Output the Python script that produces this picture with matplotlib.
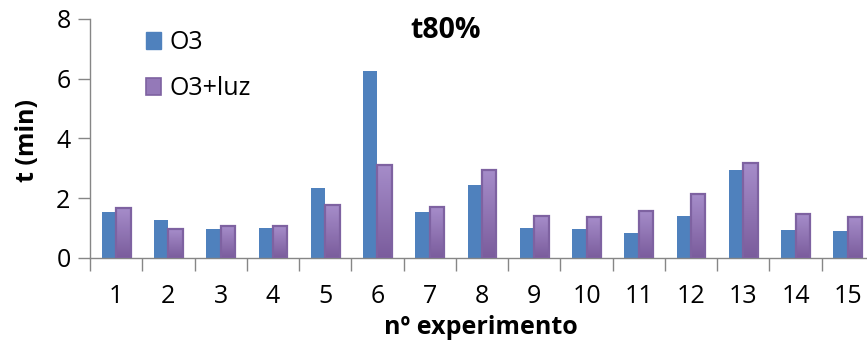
import numpy as np
import matplotlib
matplotlib.use("Agg")
import matplotlib.pyplot as plt
from matplotlib.patches import Patch
from matplotlib.colors import LinearSegmentedColormap

experiments = [str(i) for i in range(1, 16)]
o3 = [1.52, 1.26, 0.96, 1.00, 2.34, 6.27, 1.52, 2.43, 1.00, 0.96, 0.84, 1.40, 2.95, 0.93, 0.88]
o3_luz = [1.65, 0.95, 1.06, 1.06, 1.75, 3.12, 1.70, 2.95, 1.40, 1.35, 1.58, 2.14, 3.16, 1.45, 1.36]

BLUE = "#4f81bd"
PURPLE_EDGE = "#7e62a1"
AXIS_GREY = "#868686"

plt.rcParams["font.family"] = ["Open Sans", "DejaVu Sans"]

fig = plt.figure(figsize=(8.67, 3.47), dpi=100)
ax = fig.add_axes([90 / 867, 1 - 257.7 / 347, 784 / 867, (257.7 - 19) / 347])

x = np.arange(len(experiments))
w = 0.275
ax.bar(x - w / 2, o3, width=w, color=BLUE, zorder=2)
purple_bars = ax.bar(x + w / 2, o3_luz, width=w, color="none",
                     edgecolor=PURPLE_EDGE, linewidth=1.6, zorder=3)

# vertical gradient fill inside each purple bar
grad_cmap = LinearSegmentedColormap.from_list("luz", ["#7a5c9c", "#a68dca"])
gradient = np.linspace(0, 1, 256).reshape(-1, 1)
for bar in purple_bars:
    bx, by = bar.get_xy()
    bw, bh = bar.get_width(), bar.get_height()
    im = ax.imshow(gradient, cmap=grad_cmap, origin="lower", aspect="auto",
                   extent=(bx, bx + bw, by, by + bh), zorder=2.5)
    im.set_clip_path(bar)

ax.set_xlim(-0.5, len(experiments) - 0.5)
ax.set_ylim(0, 8)

ax.set_yticks([0, 2, 4, 6, 8])
ax.set_xticks(x)
ax.set_xticklabels(experiments)
ax.set_xticks(np.arange(-0.5, len(experiments)), minor=True)
ax.tick_params(axis="x", which="major", length=0, pad=19, labelsize=18)
ax.tick_params(axis="x", which="minor", length=9, width=1, color=AXIS_GREY)
ax.tick_params(axis="y", length=9, width=1, color=AXIS_GREY, pad=5, labelsize=18)

for side in ("top", "right"):
    ax.spines[side].set_visible(False)
for side in ("left", "bottom"):
    ax.spines[side].set_color(AXIS_GREY)
    ax.spines[side].set_linewidth(1)

fig.text(28 / 867, 1 - 140 / 347, "t (min)", rotation=90, ha="center", va="center",
         fontsize=18, fontweight="bold")
fig.text(481 / 867, 1 - 328 / 347, "nº experimento", ha="center", va="center",
         fontsize=18, fontweight="bold")
fig.text(446 / 867, 1 - 31 / 347, "t80%", ha="center", va="center",
         fontsize=20.5, fontweight="bold")

handles = [Patch(facecolor=BLUE, edgecolor=BLUE),
           Patch(facecolor="#9479b8", edgecolor=PURPLE_EDGE, linewidth=1.2)]
ax.legend(handles, ["O3", "O3+luz"], loc="upper left",
          bbox_to_anchor=(146 / 867, 1 - 30 / 347), bbox_transform=fig.transFigure,
          frameon=False, fontsize=18, handlelength=0.6, handleheight=0.7,
          handletextpad=0.35, labelspacing=0.85, borderpad=0.0, borderaxespad=0.0)

fig.savefig("out.png", dpi=100)
